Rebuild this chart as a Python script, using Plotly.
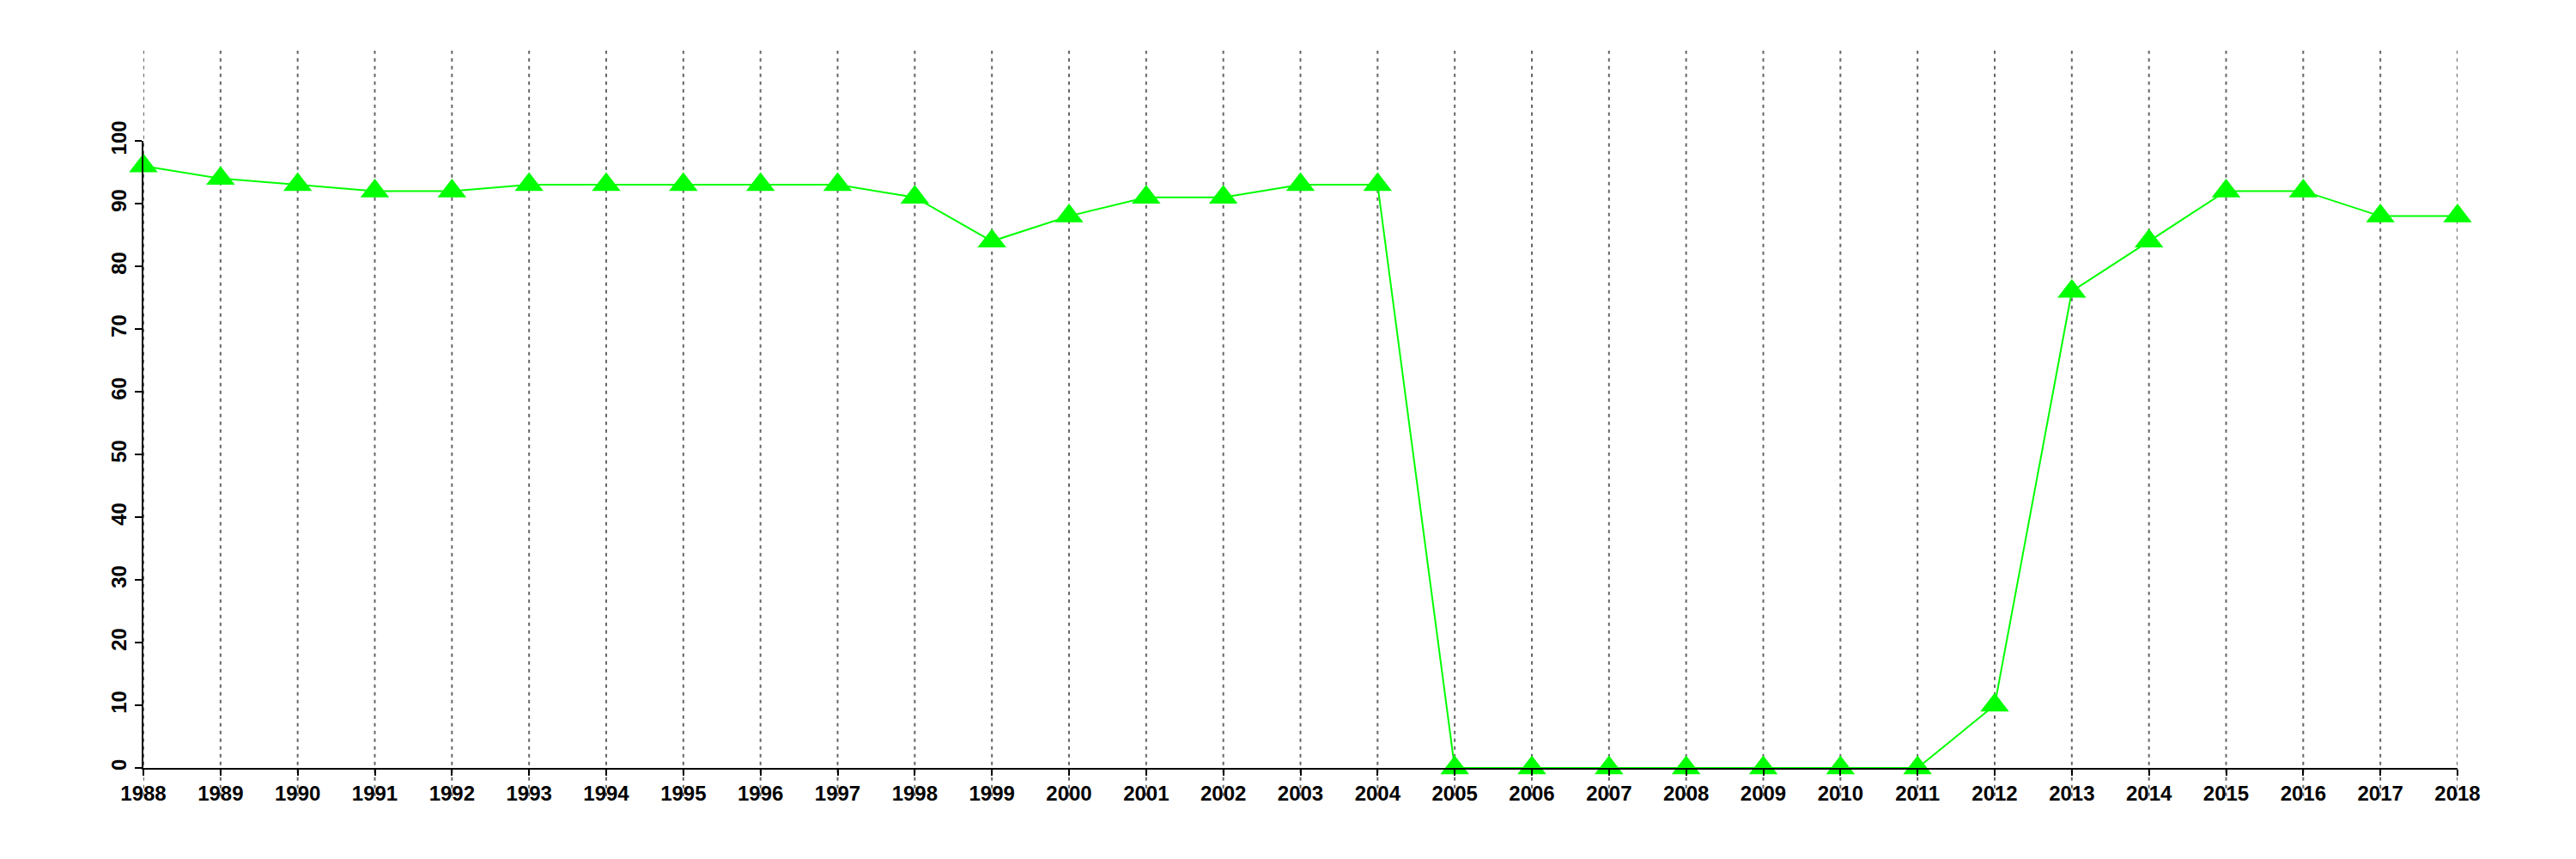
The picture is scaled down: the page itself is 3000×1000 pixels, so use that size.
import plotly.graph_objects as go

years = list(range(1988, 2019))
values = [96, 94, 93, 92, 92, 93, 93, 93, 93, 93, 91, 84, 88, 91, 91, 93, 93,
          0, 0, 0, 0, 0, 0, 0, 10, 76, 84, 92, 92, 88, 88]
y_ticks = list(range(0, 101, 10))

GREEN = "#00FF00"
FONT = dict(family="Liberation Sans, Arial, sans-serif", size=24, color="black", weight="bold")

fig = go.Figure()
fig.add_trace(go.Scatter(
    x=years, y=values, mode="lines+markers",
    line=dict(color=GREEN, width=2),
    marker=dict(symbol="triangle-up", size=29, color=GREEN, line=dict(width=0)),
    cliponaxis=False, showlegend=False, hoverinfo="x+y",
))

shapes = []
for yr in years:
    shapes.append(dict(
        type="line", xref="x", yref="paper", x0=yr, x1=yr, y0=-0.045, y1=1.144,
        line=dict(color="#666666", width=2, dash="4px,5px"), layer="below",
    ))

fig.update_layout(
    width=2984, height=984,
    margin=dict(l=159, r=130, t=156, b=98, pad=0),
    paper_bgcolor="white", plot_bgcolor="white",
    shapes=shapes,
    xaxis=dict(
        range=[1988, 2018], tickmode="array", tickvals=years,
        ticktext=[str(y) for y in years],
        showgrid=False, zeroline=False, showline=True, linecolor="black", linewidth=2,
        ticks="outside", ticklen=7, tickwidth=2, tickcolor="black",
        tickfont=FONT, tickangle=0,
    ),
    yaxis=dict(
        range=[0, 100], tickmode="array", tickvals=y_ticks,
        ticktext=[str(v) for v in y_ticks],
        showgrid=False, zeroline=False, showline=True, linecolor="black", linewidth=2,
        ticks="outside", ticklen=8, tickwidth=2, tickcolor="black",
        tickfont=FONT, tickangle=-90,
    ),
)

fig.write_html("out.html")
